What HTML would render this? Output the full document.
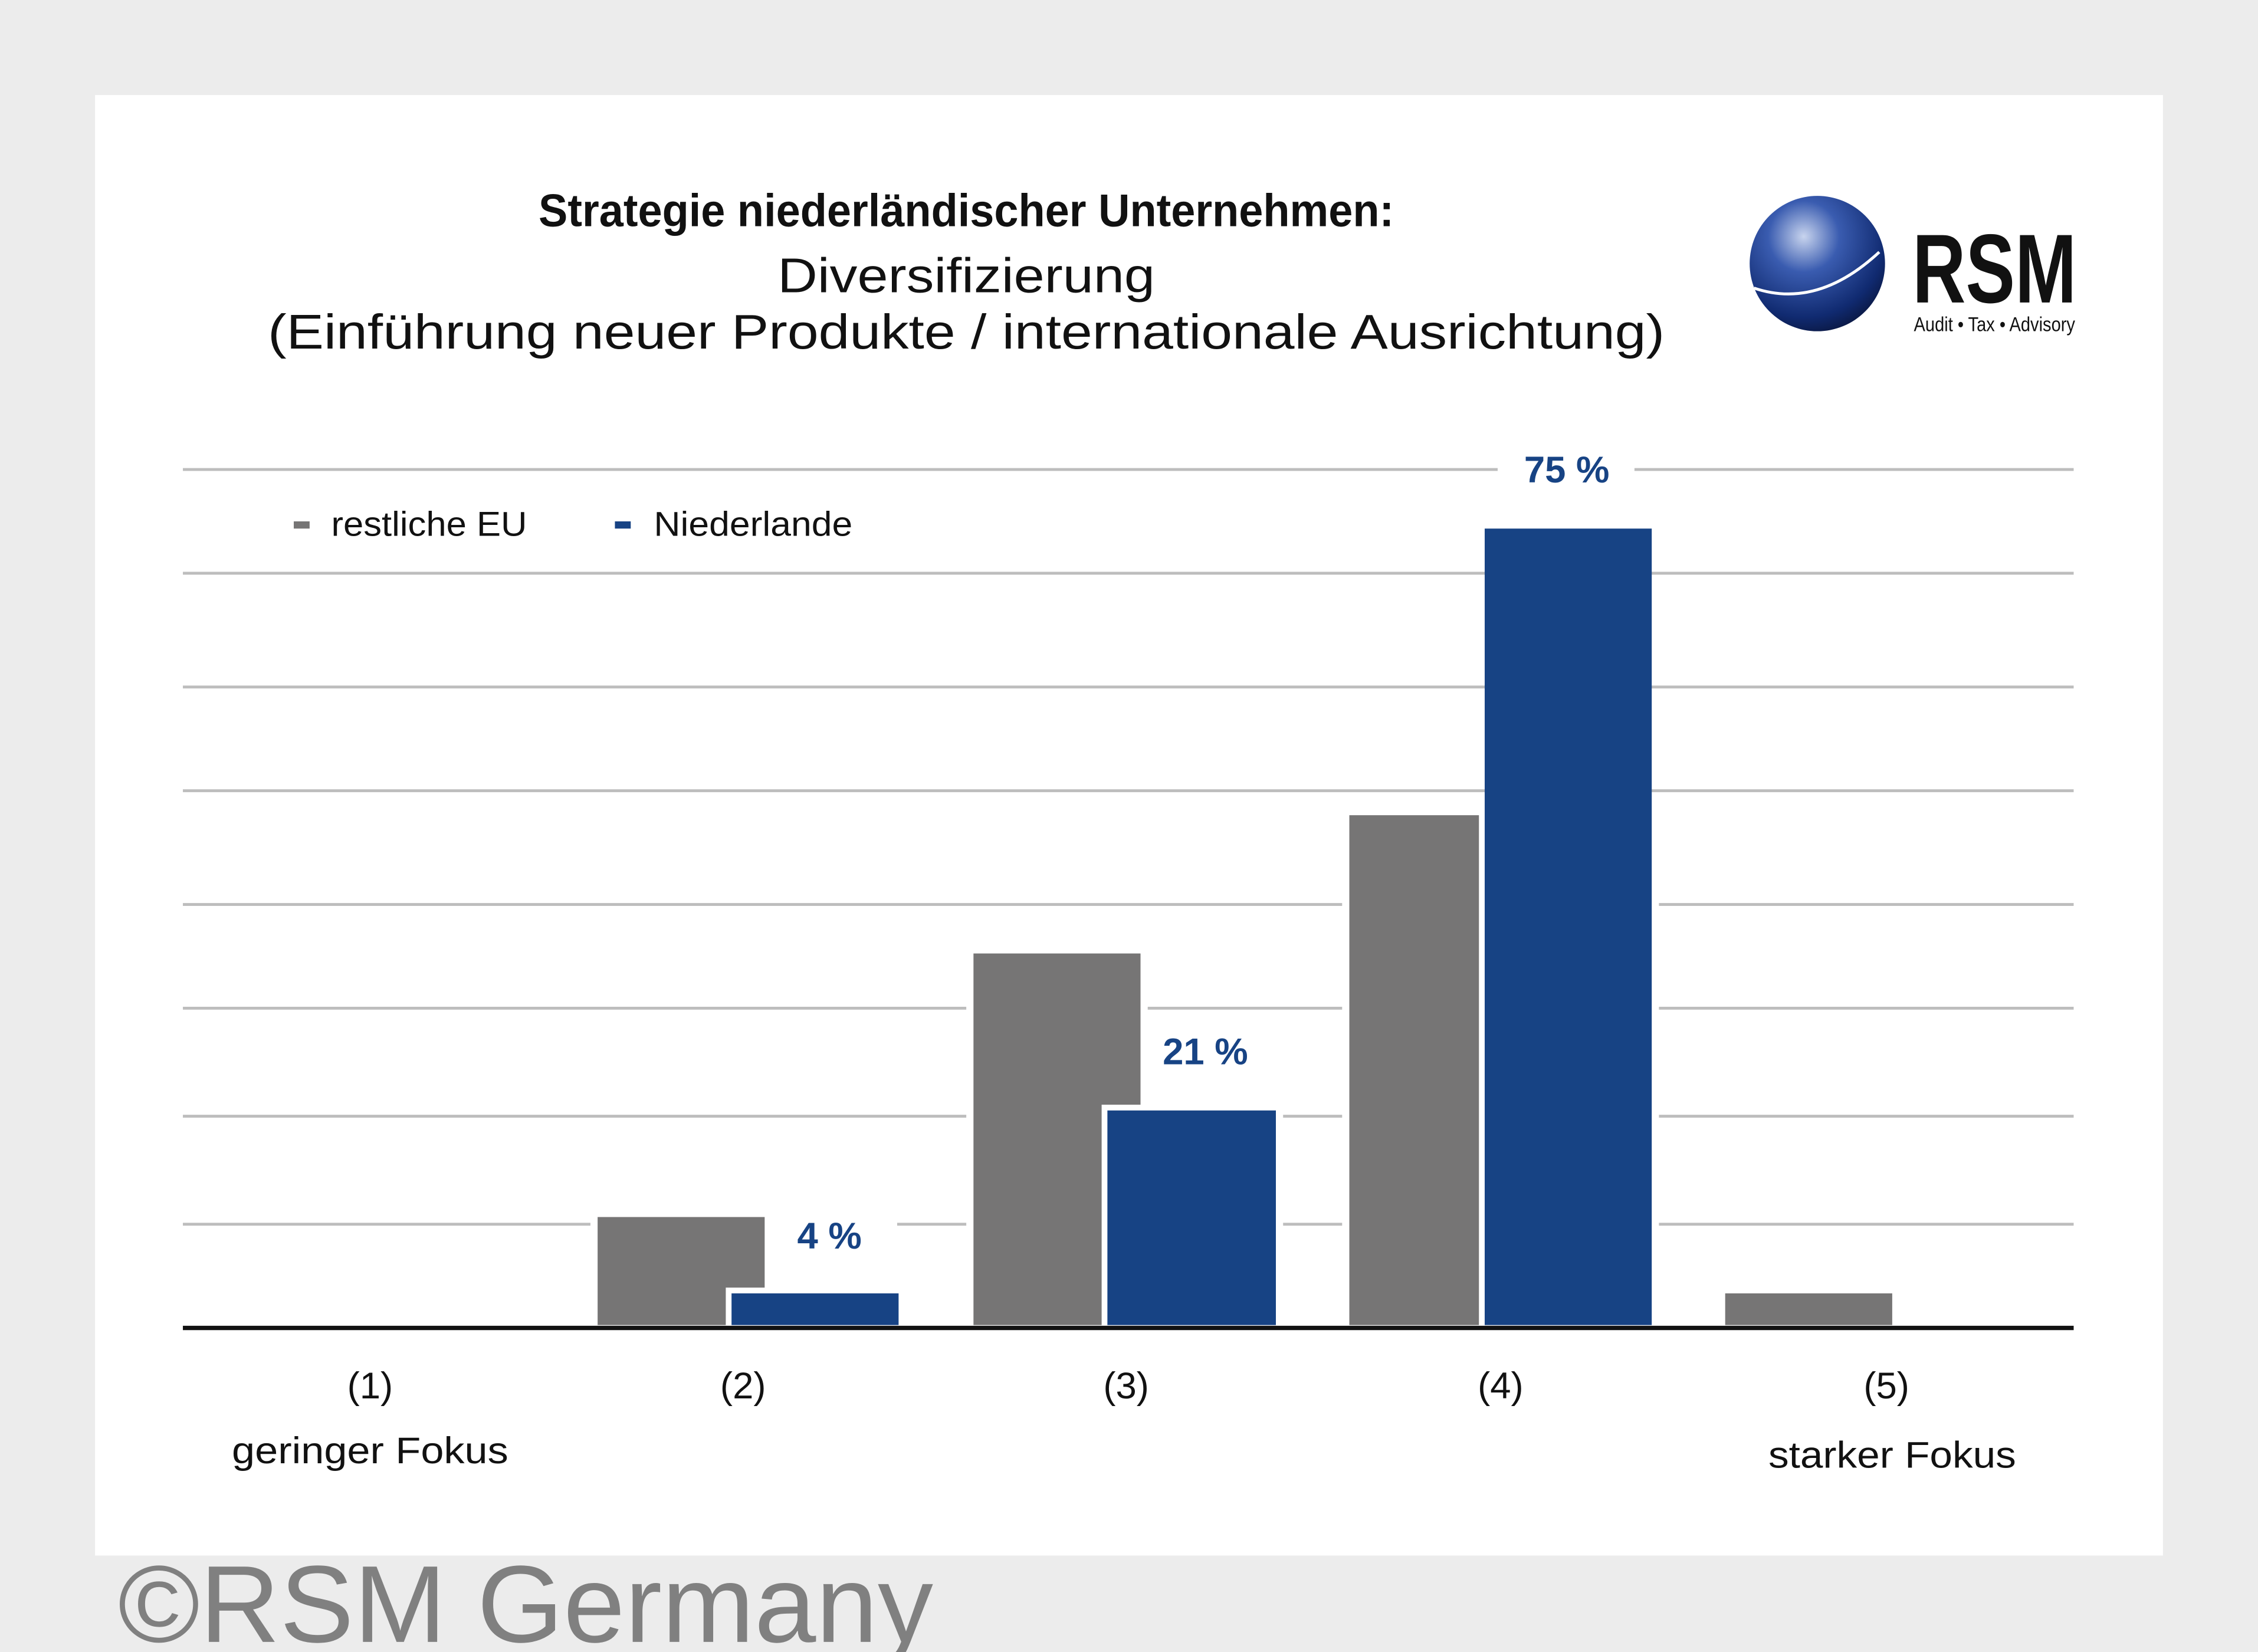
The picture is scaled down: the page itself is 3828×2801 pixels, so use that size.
<!DOCTYPE html>
<html><head><meta charset="utf-8"><style>
html,body{margin:0;padding:0;background:#ececec;overflow:hidden}
svg{display:block}
text{font-family:"Liberation Sans",sans-serif}
</style></head><body>
<svg width="3828" height="2801" viewBox="0 0 1568 1147" preserveAspectRatio="none" xmlns="http://www.w3.org/2000/svg">
<rect x="0" y="0" width="1568" height="1147" fill="#ececec"/>
<rect x="66" y="66" width="1436" height="1014" fill="#fff"/>
<text x="671" y="157" text-anchor="middle" font-size="32" font-weight="bold" fill="#111" textLength="594" lengthAdjust="spacingAndGlyphs">Strategie niederländischer Unternehmen:</text>
<text x="671" y="203" text-anchor="middle" font-size="34" fill="#111" textLength="262" lengthAdjust="spacingAndGlyphs">Diversifizierung</text>
<text x="671" y="242" text-anchor="middle" font-size="34" fill="#111" textLength="970" lengthAdjust="spacingAndGlyphs">(Einführung neuer Produkte / internationale Ausrichtung)</text>
<defs><radialGradient id="g" cx="0.4" cy="0.3" r="0.75"><stop offset="0" stop-color="#c8d4ee"/><stop offset="0.35" stop-color="#3a5cb0"/><stop offset="0.8" stop-color="#102a70"/><stop offset="1" stop-color="#0a1740"/></radialGradient></defs>
<circle cx="1262" cy="183" r="47" fill="url(#g)"/>
<path d="M1218,200 Q1262,215 1305,175" stroke="#fff" stroke-width="2" fill="none"/>
<text x="1328" y="210" font-size="68" font-weight="bold" fill="#111" textLength="114" lengthAdjust="spacingAndGlyphs">RSM</text>
<text x="1329" y="230" font-size="14" fill="#111" textLength="112" lengthAdjust="spacingAndGlyphs">Audit • Tax • Advisory</text>
<g stroke="#bdbdbd" stroke-width="2">
<line x1="127" y1="326" x2="1440" y2="326"/><line x1="127" y1="398" x2="1440" y2="398"/>
<line x1="127" y1="477" x2="1440" y2="477"/><line x1="127" y1="549" x2="1440" y2="549"/>
<line x1="127" y1="628" x2="1440" y2="628"/><line x1="127" y1="700" x2="1440" y2="700"/>
<line x1="127" y1="775" x2="1440" y2="775"/><line x1="127" y1="850" x2="1440" y2="850"/>
</g>
<rect x="1040" y="312" width="95" height="30" fill="#fff"/>
<rect x="531" y="836" width="92" height="30" fill="#fff"/>
<rect x="795" y="712" width="90" height="36" fill="#fff"/>
<g fill="#fff">
<rect x="410" y="840" width="126" height="82"/>
<rect x="671" y="657" width="126" height="265"/>
<rect x="932" y="561" width="220" height="361"/>
<rect x="1193" y="893" width="126" height="29"/>
<rect x="888" y="766" width="3" height="156"/>
</g>
<rect x="415" y="845" width="116" height="75" fill="#767575"/>
<rect x="676" y="662" width="116" height="258" fill="#767575"/>
<rect x="937" y="566" width="90" height="354" fill="#767575"/>
<rect x="1198" y="898" width="116" height="22" fill="#767575"/>
<rect x="504" y="894" width="124" height="28" fill="#fff"/>
<rect x="765" y="767" width="125" height="155" fill="#fff"/>
<rect x="508" y="898" width="116" height="22" fill="#174384"/>
<rect x="769" y="771" width="117" height="149" fill="#174384"/>
<rect x="1031" y="367" width="116" height="553" fill="#174384"/>
<line x1="127" y1="922" x2="1440" y2="922" stroke="#111" stroke-width="3"/>
<g font-weight="bold" fill="#174384" font-size="26" text-anchor="middle">
<text x="1088" y="335">75 %</text><text x="576" y="867">4 %</text><text x="837" y="739">21 %</text>
</g>
<rect x="204" y="362" width="11" height="5" fill="#767575"/>
<text x="230" y="372" font-size="24" fill="#111" textLength="136" lengthAdjust="spacingAndGlyphs">restliche EU</text>
<rect x="427" y="362" width="11" height="5" fill="#174384"/>
<text x="454" y="372" font-size="24" fill="#111" textLength="138" lengthAdjust="spacingAndGlyphs">Niederlande</text>
<g font-size="26" fill="#111" text-anchor="middle">
<text x="257" y="971">(1)</text><text x="516" y="971">(2)</text><text x="782" y="971">(3)</text><text x="1042" y="971">(4)</text><text x="1310" y="971">(5)</text>
<text x="257" y="1016" textLength="192" lengthAdjust="spacingAndGlyphs">geringer Fokus</text><text x="1314" y="1019" textLength="172" lengthAdjust="spacingAndGlyphs">starker Fokus</text>
</g>
<text x="82" y="1140" font-size="76" fill="#808080" textLength="566" lengthAdjust="spacingAndGlyphs">©RSM Germany</text>
</svg>
</body></html>
